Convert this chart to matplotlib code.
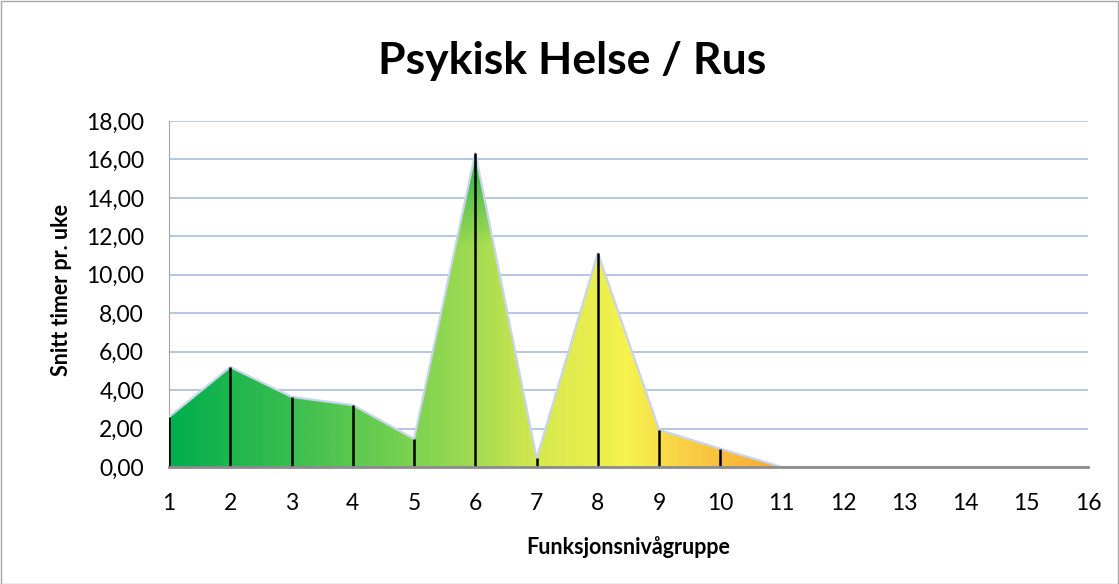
import numpy as np
import matplotlib.pyplot as plt
from matplotlib.colors import LinearSegmentedColormap, to_rgb
from matplotlib.patches import Rectangle

# average hours per week for each function-level group
groups = list(range(1, 17))
hours = [2.60, 5.20, 3.65, 3.22, 1.46, 16.33, 0.45, 11.13, 1.93, 0.95,
         0.0, 0.0, 0.0, 0.0, 0.0, 0.0]
y_ticks = [0, 2, 4, 6, 8, 10, 12, 14, 16, 18]
y_labels = ["0,00", "2,00", "4,00", "6,00", "8,00", "10,00", "12,00",
            "14,00", "16,00", "18,00"]

plt.rcParams['font.family'] = ['Lato', 'DejaVu Sans']

W, H = 1119, 584
fig = plt.figure(figsize=(W / 100, H / 100), dpi=100)
ax = fig.add_axes([169 / W, 1 - 467 / H, (1088 - 169) / W, (467 - 121) / H])

# frame around the whole chart
fig.patches.append(Rectangle((0.5 / W, 0.5 / H), 1 - 1.5 / W, 1 - 1.5 / H,
                             transform=fig.transFigure, fill=False,
                             edgecolor="#A6A6A6", linewidth=1))

# horizontal gradient green -> yellow -> orange, darker green near the top
stops = [(0.0, "#00AE4E"), (0.2, "#3BBE50"), (0.4, "#7DD350"), (0.5, "#A2DB52"),
         (0.6, "#D4E84F"), (0.75, "#F6F24E"), (0.85, "#F9CE45"), (1.0, "#F7A733")]
cmap = LinearSegmentedColormap.from_list("grad", stops)
xs = np.linspace(0, 1, 400)
ys = np.linspace(0, 18, 300)
base = cmap(xs)[:, :3]
img = np.tile(base[None, :, :], (len(ys), 1, 1))
top = np.clip((ys - 11.5) / 3.5, 0, 1)[:, None, None]
img = img * (1 - 0.75 * top) + np.array(to_rgb("#2EB34A"))[None, None, :] * 0.75 * top

poly_x = [groups[0]] + groups[:11] + [groups[10]]
poly_y = [0] + hours[:11] + [0]
fill = ax.fill(poly_x, poly_y, facecolor="none", edgecolor="none")[0]
im = ax.imshow(img, extent=(1, 11, 0, 18), origin="lower", aspect="auto",
               interpolation="bilinear", zorder=2)
im.set_clip_path(fill)

ax.plot(groups, hours, color="#C8D4EC", linewidth=1.6, zorder=3)
ax.vlines(groups[:11], 0, hours[:11], color="black", linewidth=1.8, zorder=4)

ax.set_xlim(1, 16)
ax.set_ylim(0, 18)
ax.set_xticks(groups)
ax.set_xticklabels([str(g) for g in groups], fontsize=16.5)
ax.set_yticks(y_ticks)
ax.set_yticklabels(y_labels, fontsize=16.5)
ax.tick_params(axis="x", length=0, pad=19)
ax.tick_params(axis="y", length=0, pad=18)
ax.grid(axis="y", color="#A9BCE2", linewidth=1.2, zorder=0)
ax.set_axisbelow(True)
for side in ["top", "right"]:
    ax.spines[side].set_visible(False)
ax.spines["left"].set_color("#A6A6A6")
ax.spines["bottom"].set_color("#8C8C8C")
ax.spines["bottom"].set_linewidth(2)
ax.spines["bottom"].set_zorder(5)

fig.text(572 / W, 1 - 61 / H, "Psykisk Helse / Rus", ha="center", va="center",
         fontsize=32, fontweight="bold")
fig.text(628 / W, 1 - 547 / H, "Funksjonsnivågruppe", ha="center", va="center",
         fontsize=15.5, fontweight="bold")
fig.text(62 / W, 1 - 290 / H, "Snitt timer pr. uke", ha="center", va="center",
         rotation=90, fontsize=15.5, fontweight="bold")

fig.savefig("out.png", dpi=100)
